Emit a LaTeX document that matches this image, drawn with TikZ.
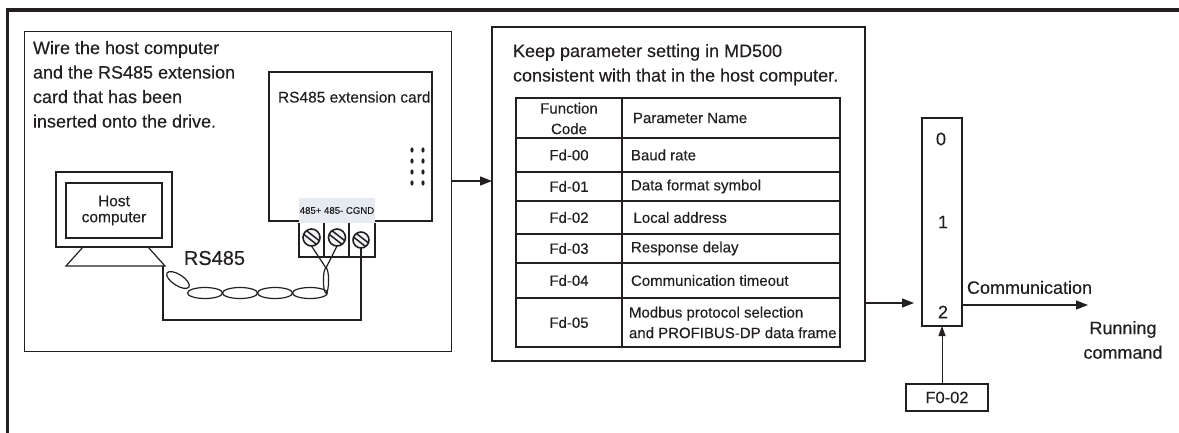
\documentclass[tikz,border=0pt]{standalone}
\usepackage{fontspec}
\setmainfont[FakeBold=0.3]{Liberation Sans}
\usetikzlibrary{arrows.meta}
\definecolor{ink}{HTML}{231F20}
\definecolor{labelbg}{HTML}{E6EAF1}
\definecolor{screwfill}{HTML}{F2F4F8}
\begin{document}
\begin{tikzpicture}[x=1pt,y=-1pt,
  every node/.style={inner sep=0pt, outer sep=0pt, text=ink},
  outer/.style={draw=ink, line width=3.6pt},
  panel/.style={draw=ink, line width=1.5pt, rectangle},
  thinbox/.style={draw=ink, line width=1.3pt, rectangle},
  wire/.style={draw=ink, line width=1.2pt},
  bigtxt/.style={font=\fontsize{18}{24.5}\selectfont},
  midtxt/.style={font=\fontsize{15.5}{16}\selectfont},
  tabtxt/.style={font=\fontsize{15}{20.5}\selectfont},
  tinytxt/.style={font=\fontsize{9.6}{11}\selectfont},
  arr/.style={draw=ink, line width=1.2pt, -{Triangle[length=12pt,width=9pt]}},
  arrthin/.style={draw=ink, line width=1pt, -{Triangle[length=10pt,width=7pt]}},
  screw/.style={circle, draw=ink, line width=1.6pt, fill=screwfill, minimum size=17pt},
]
\useasboundingbox (0,0) rectangle (1179,432);

% outer frame (left and top edges)
\draw[outer] (7.5,440) -- (7.5,10) -- (1185,10);

% ---------------- wiring panel ----------------
\node[panel, minimum width=427pt, minimum height=320pt] (wirebox) at (238,191.5) {};
\node[bigtxt, align=left, anchor=north west] (wiretext) at (33,41)
  {Wire the host computer\\and the RS485 extension\\card that has been\\inserted onto the drive.};

% extension card
\node[thinbox, minimum width=163pt, minimum height=149pt] (card) at (350.5,146.5) {};
\node[midtxt, anchor=west] (cardtext) at (278,97) {RS485 extension card};
\foreach \cx in {412,423}
  \foreach \cy in {150,161,172,183}
    \fill[ink] (\cx,\cy) ellipse [x radius=1.6pt, y radius=2.6pt];

% terminal label strip and block
\node[fill=labelbg, minimum width=76pt, minimum height=25pt] (termlabel) at (337,210.5) {};
\node[tinytxt] at (termlabel.center) {485+ 485- CGND};
\draw[thinbox] (termlabel.south west) -- (299,257) -- (375,257) -- (termlabel.south east);
\draw[thinbox] (324,223) -- (324,257) (349,223) -- (349,257);

% host computer
\node[thinbox, minimum width=116pt, minimum height=75pt] (host) at (114,209.5) {};
\node[thinbox, minimum width=96pt, minimum height=55pt, midtxt, align=center] (screen) at (114,210.5) {Host\\computer};
\draw[wire] (83,247) -- (66,266) -- (165,266) -- (148,247);
\coordinate (standR) at (163,266);

\node[font=\fontsize{20}{22}\selectfont] (rslabel) at (214.5,258) {RS485};

% screws
\node[screw] (s1) at (311.5,237.5) {};
\node[screw] (s2) at (337,237.5) {};
\node[screw, minimum size=16pt] (s3) at (361,240) {};

% cable to CGND
\coordinate (yapex) at (326,268);
\draw[wire] (standR) -- (163,320) -| (s3.south);
\draw[wire] (yapex) -- (s1.south);
\draw[wire] (yapex) -- (s2.south);

% twisted pair
\draw[wire, shift={(178,280)}, rotate=-33] (0,0) ellipse [x radius=13pt, y radius=5.5pt];
\foreach \ex in {205,240,275,310}
  \draw[wire] (\ex,293) ellipse [x radius=17.5pt, y radius=5.5pt];
\draw[wire] (326,280.5) ellipse [x radius=2.6pt, y radius=12.5pt];

% screw slots
\foreach \s in {s1,s2,s3}{
  \begin{scope}
    \clip (\s.center) circle (8pt);
    \draw[ink, line width=1.5pt, shift={(\s.center)}, rotate=-38]
      (-12,-2.3) -- (12,-2.3) (-12,2.3) -- (12,2.3);
  \end{scope}
}

% ---------------- parameter panel ----------------
\node[panel, minimum width=373pt, minimum height=334pt] (setbox) at (678.5,194) {};
\node[bigtxt, align=left, anchor=north west] (settext) at (513,44)
  {Keep parameter setting in MD500\\consistent with that in the host computer.};

% parameter table
\draw[ink, line width=1.6pt] (516,98) rectangle (840,347);
\draw[ink, line width=1.6pt] (622,98) -- (622,347);
\foreach \ry in {138,172,201,234,263,298}
  \draw[ink, line width=1.6pt] (516,\ry) -- (840,\ry);

\node[tabtxt, align=center] (hcode) at (569,118.5) {Function\\Code};
\node[tabtxt, anchor=west] (hname) at (633,118) {Parameter Name};
\foreach \code/\pname/\ry [count=\i] in {
    Fd-00/Baud rate/155,
    Fd-01/Data format symbol/186.5,
    Fd-02/{\,Local address}/217.5,
    Fd-03/Response delay/248.5,
    Fd-04/Communication timeout/280.5}{
  \node[tabtxt] (code\i) at (569,\ry) {\code};
  \node[tabtxt, anchor=west] (pname\i) at (631,\ry) {\pname};
}
\node[tabtxt] (code6) at (569,322.5) {Fd-05};
\node[tabtxt, align=left, anchor=west] (pname6) at (629,322.5)
  {Modbus protocol selection\\and PROFIBUS-DP data frame};

% ---------------- command source selector ----------------
\node[thinbox, minimum width=40pt, minimum height=208pt] (sel) at (942,222) {};
\node[bigtxt] (opt0) at (941,139) {0};
\node[bigtxt] (opt1) at (943,222) {1};
\node[bigtxt] (opt2) at (943,312) {2};

\node[thinbox, minimum width=82pt, minimum height=27pt, font=\fontsize{16.5}{18}\selectfont] (f002) at (947,397.5) {F0-02};

\coordinate (runout) at (1088,305);
\node[bigtxt, anchor=south west] (commtext) at (967,294) {Communication};
\node[bigtxt, align=center] (runtext) at (1123,340) {Running\\command};

% connectors
\draw[arr] ([yshift=10.5pt]wirebox.east) -- ([yshift=10.5pt]wirebox.east -| setbox.west);
\draw[arr, shorten >=8pt] ([yshift=-109pt]setbox.east) -- ([yshift=-109pt]setbox.east -| sel.west);
\draw[arr] ([yshift=-83pt]sel.east) -- (runout);
\draw[arrthin] (f002.north -| sel.south) -- (sel.south);
\end{tikzpicture}
\end{document}
